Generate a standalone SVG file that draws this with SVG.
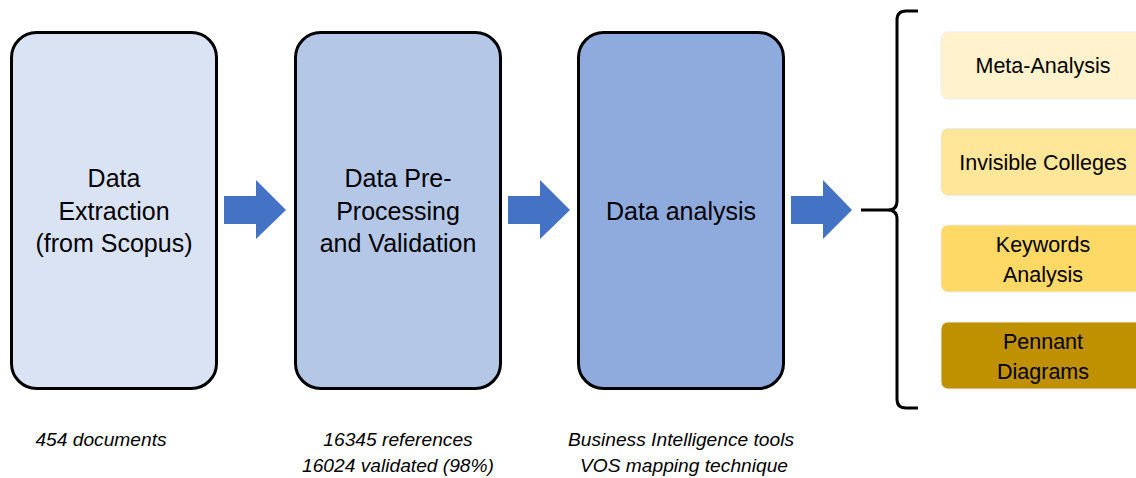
<svg xmlns="http://www.w3.org/2000/svg" width="1136" height="478" viewBox="0 0 1136 478">
<style>
.main{stroke:#000;stroke-width:3}
.t{font-family:"Liberation Sans",Arial,sans-serif;fill:#000;text-anchor:middle}
.mt{font-size:25px}
.rt{font-size:21.5px}
.note{font-family:"Liberation Sans",Arial,sans-serif;font-style:italic;font-size:19.2px;fill:#000;text-anchor:middle}
.arrow{fill:#4472C4}
.opt{stroke:#ececec;stroke-width:1}
</style>
<rect width="1136" height="478" fill="#fff"/>
<g id="node-extraction">
<rect class="main" x="11.5" y="32.5" width="205" height="356" rx="25" fill="#DAE3F3"/>
<text class="t mt" x="114" y="187">Data</text>
<text class="t mt" x="114" y="219.5">Extraction</text>
<text class="t mt" x="114" y="252">(from Scopus)</text>
</g>
<g id="node-preprocessing">
<rect class="main" x="295.5" y="32.5" width="205" height="356" rx="25" fill="#B4C7E7"/>
<text class="t mt" x="398" y="187">Data Pre-</text>
<text class="t mt" x="398" y="219.5">Processing</text>
<text class="t mt" x="398" y="252">and Validation</text>
</g>
<g id="node-analysis">
<rect class="main" x="578.5" y="32.5" width="205" height="356" rx="25" fill="#8FAADC"/>
<text class="t mt" x="681" y="219.5">Data analysis</text>
</g>
<g id="node-meta">
<rect class="opt" x="941" y="32" width="210" height="67" rx="7" fill="#FFF2CC"/>
<text class="t rt" x="1043" y="73">Meta-Analysis</text>
</g>
<g id="node-invisible">
<rect class="opt" x="941" y="128.5" width="210" height="67" rx="7" fill="#FFE699"/>
<text class="t rt" x="1043" y="170">Invisible Colleges</text>
</g>
<g id="node-keywords">
<rect class="opt" x="941" y="225" width="210" height="67" rx="7" fill="#FFD966"/>
<text class="t rt" x="1043" y="252">Keywords</text>
<text class="t rt" x="1043" y="282">Analysis</text>
</g>
<g id="node-pennant">
<rect class="opt" x="941" y="322" width="210" height="67" rx="7" fill="#BF9000"/>
<text class="t rt" x="1043" y="349">Pennant</text>
<text class="t rt" x="1043" y="379">Diagrams</text>
</g>
<g id="connectors">
<polygon class="arrow" points="224,196 256,196 256,180 286,210 256,239 256,224 224,224"/>
<polygon class="arrow" points="508,196 540,196 540,180 570,210 540,239 540,224 508,224"/>
<polygon class="arrow" points="791,196 823,196 823,180 852,210 823,239 823,224 791,224"/>
<path d="M918,11 H906 Q897,11 897,20 V201 Q897,210 888,210 H861 M888,210 Q897,210 897,219 V399 Q897,408 906,408 H918" fill="none" stroke="#000" stroke-width="3"/>
</g>
<g id="notes">
<text class="note" x="101" y="446">454 documents</text>
<text class="note" x="398" y="446">16345 references</text>
<text class="note" x="398" y="472">16024 validated (98%)</text>
<text class="note" x="681" y="446">Business Intelligence tools</text>
<text class="note" x="684" y="472">VOS mapping technique</text>
</g>
</svg>
